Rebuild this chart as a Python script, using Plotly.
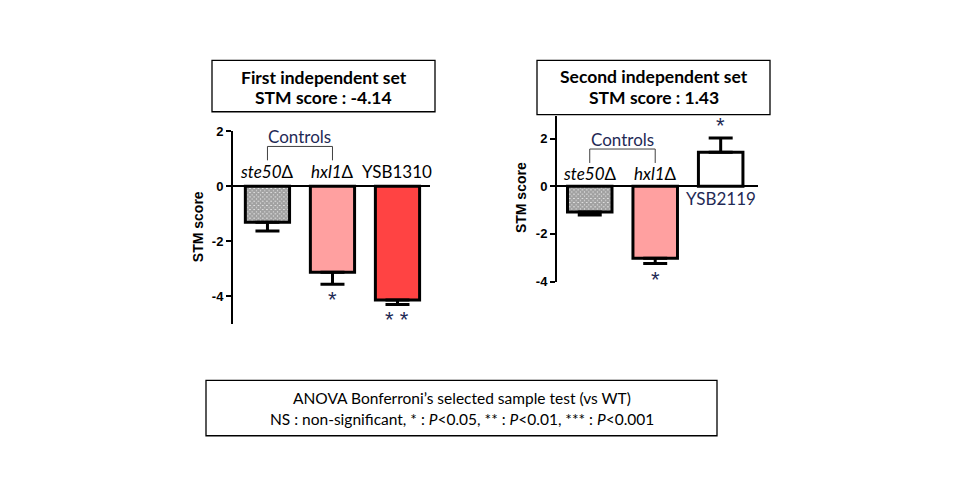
import plotly.graph_objects as go

W, H = 960, 500

# data
strains_1 = ["ste50Δ", "hxl1Δ", "YSB1310"]
scores_1 = [-1.31, -3.13, -4.14]
errors_1 = [0.32, 0.44, 0.16]
stars_1 = ["", "*", "* *"]

strains_2 = ["ste50Δ", "hxl1Δ", "YSB2119"]
scores_2 = [-1.08, -3.02, 1.43]
errors_2 = [0.12, 0.22, 0.60]
stars_2 = ["", "*", "*"]

colors_1 = ["white", "#FFA0A0", "#FF4343"]
colors_2 = ["white", "#FFA0A0", "white"]

y_ticks = [2, 0, -2, -4]
y_tick_text = ["2", "0", "-2", "-4"]

NAVY = "#1F2A55"
CAL = "Lato, 'Open Sans', sans-serif"
ARIAL = "'Liberation Sans', Arial, sans-serif"


def px(x):
    return x / W


def py(y):
    return 1 - y / H


def bar_trace(strains, scores, errors, colors, xa, ya):
    return go.Bar(
        x=list(range(len(strains))),
        y=scores,
        width=0.68,
        marker=dict(
            color=colors,
            line=dict(color="black", width=3),
            pattern=dict(shape=["x", "", ""], fgcolor="black", size=3,
                         solidity=0.9, fillmode="overlay"),
        ),
        error_y=dict(
            type="data", symmetric=False,
            array=[e if v > 0 else 0 for v, e in zip(scores, errors)],
            arrayminus=[e if v < 0 else 0 for v, e in zip(scores, errors)],
            color="black", thickness=3, width=12,
        ),
        xaxis=xa, yaxis=ya, showlegend=False, hoverinfo="skip",
    )


fig = go.Figure()
fig.add_trace(bar_trace(strains_1, scores_1, errors_1, colors_1, "x", "y"))
fig.add_trace(bar_trace(strains_2, scores_2, errors_2, colors_2, "x2", "y2"))

ax_common = dict(showgrid=False, showticklabels=False, ticks="", zeroline=False,
                 showline=False, fixedrange=True)
ay_common = dict(showgrid=False, zeroline=True, zerolinecolor="black", zerolinewidth=2,
                 showline=True, linecolor="black", linewidth=2, ticks="outside",
                 ticklen=5, tickwidth=2, tickcolor="black",
                 tickvals=y_ticks, ticktext=y_tick_text,
                 tickfont=dict(family=ARIAL, size=13, color="black", weight="bold"))

fig.update_layout(
    width=W, height=H,
    margin=dict(l=0, r=0, t=0, b=0),
    paper_bgcolor="white", plot_bgcolor="white",
    xaxis=dict(domain=[px(233), px(430)], range=[-0.53, 2.5], anchor="y", **ax_common),
    yaxis=dict(domain=[py(327), py(128)], range=[-5.02, 2.0], anchor="x", **ay_common),
    xaxis2=dict(domain=[px(557), px(758)], range=[-0.5, 2.57], anchor="y2", **ax_common),
    yaxis2=dict(domain=[py(283), py(112)], range=[-4.0, 2.97], anchor="x2", **ay_common),
)

ann = []
shapes = []

# category labels, brackets, significance stars
panels = [
    ("x", "y", strains_1, scores_1, errors_1, stars_1, 0.55, 28.3),
    ("x2", "y2", strains_2, scores_2, errors_2, stars_2, 0.53, 24.4),
]
for xr, yr, strains, scores, errors, stars, lab_y, unit in panels:
    for i, (s, v, e, st) in enumerate(zip(strains, scores, errors, stars)):
        italic = s.endswith("Δ")
        if v < 0 or italic:
            ly, col = lab_y, "black"
        else:
            ly, col = -0.5, NAVY
        text = f"<i>{s[:-1]}</i>Δ" if italic else s
        ann.append(dict(x=i, y=ly, xref=xr, yref=yr, text=text, showarrow=False,
                        yanchor="middle",
                        font=dict(family=CAL, size=17, color=col)))
        if st:
            sy = v - e - 16 / unit if v < 0 else v + e + 13 / unit
            ann.append(dict(x=i, y=sy, xref=xr, yref=yr, text=st, showarrow=False,
                            yanchor="middle",
                            font=dict(family=ARIAL, size=22, color=NAVY)))
    top = lab_y + 11 / unit * 2.3
    bot = lab_y + 11 / unit * 1.0
    shapes.append(dict(type="path", xref=xr, yref=yr,
                       path=f"M 0,{bot} L 0,{top} L 1,{top} L 1,{bot}",
                       line=dict(color="#404040", width=1)))
    ann.append(dict(x=0.5, y=top + 10 / unit, xref=xr, yref=yr, text="Controls",
                    showarrow=False, yanchor="middle",
                    font=dict(family=CAL, size=17, color=NAVY)))

# axis titles
for x0, yc in [(198, 227), (521, 197)]:
    ann.append(dict(x=px(x0), y=py(yc), xref="paper", yref="paper", text="<b>STM score</b>",
                    textangle=-90, showarrow=False, xanchor="center", yanchor="middle",
                    font=dict(family=ARIAL, size=14, color="black")))

# title boxes
boxes = [
    ((212, 55, 435, 108), ["First independent set", "STM score : -4.14"], 73, 93, True, 17.5),
    ((537, 55, 770, 111), ["Second independent set", "STM score : 1.43"], 72, 93, True, 17.5),
    ((206, 385, 717, 442),
     ["ANOVA Bonferroni’s selected sample test (vs WT)",
      "NS : non-significant, * : <i>P</i><0.05, ** : <i>P</i><0.01, *** : <i>P</i><0.001"],
     403, 425, False, 15.5),
]
for (x0, y0, x1, y1), lines, l1, l2, bold, fs in boxes:
    shapes.append(dict(type="rect", xref="paper", yref="paper",
                       x0=px(x0), x1=px(x1), y0=py(y1), y1=py(y0),
                       line=dict(color="black", width=1.3), fillcolor="rgba(0,0,0,0)"))
    for t, yy in zip(lines, (l1, l2)):
        ann.append(dict(x=px((x0 + x1) / 2), y=py(yy), xref="paper", yref="paper",
                        text=f"<b>{t}</b>" if bold else t, showarrow=False,
                        xanchor="center", yanchor="middle",
                        font=dict(family=CAL, size=fs, color="black")))

fig.update_layout(annotations=ann, shapes=shapes)

# page body has a default 8px margin; drop it so positions match the picture
fig.write_html("out.html", config={"displayModeBar": False},
               post_script="document.body.style.margin='0';")
